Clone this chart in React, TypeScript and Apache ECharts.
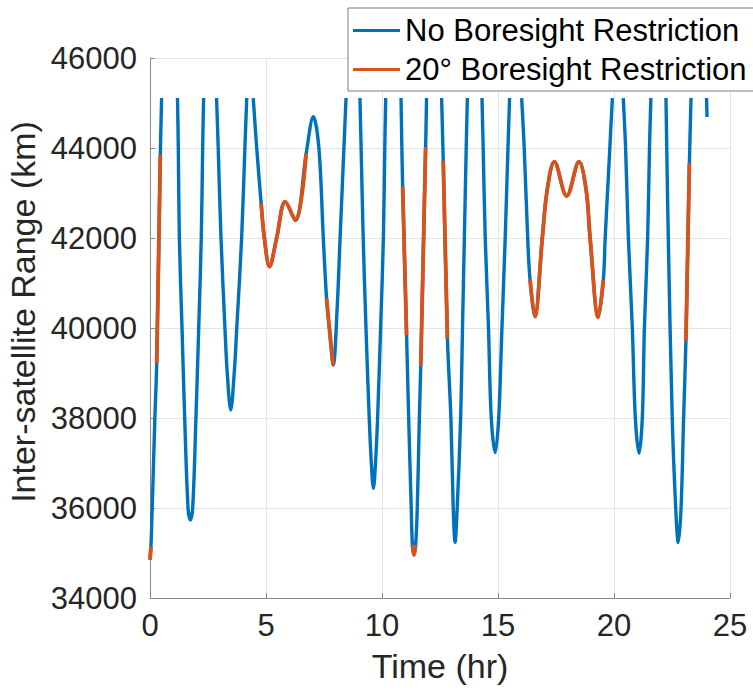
import React, { useEffect, useRef } from "react";
import * as echarts from "echarts";

// Time (hr) samples of the inter-satellite range curve; null = gap (range above plotted limit)
const timeHr: number[] = [
  0, 0.04, 0.095, 0.21, 0.29, 0.445, 0.5,
  0.84,
  1.185, 1.22, 1.265, 1.38, 1.495, 1.64, 1.737, 1.84, 1.98, 2.1, 2.21, 2.27, 2.31,
  2.6,
  2.87, 2.94, 3.06, 3.23, 3.33, 3.48, 3.63, 3.74, 3.95, 4.09, 4.17,
  4.31,
  4.45, 4.6, 4.79, 4.93, 5.15, 5.46, 5.83, 6.27, 6.73, 7.04, 7.28, 7.47, 7.61, 7.73, 7.9, 8.07, 8.19, 8.45,
  8.75,
  9.05, 9.1, 9.19, 9.31, 9.45, 9.54, 9.63, 9.72, 9.81, 9.94, 10.06, 10.12, 10.16,
  10.5,
  10.82, 10.89, 11.06, 11.15, 11.26, 11.31, 11.38, 11.45, 11.52, 11.61, 11.67, 11.88, 11.92,
  12.25,
  12.57, 12.64, 12.82, 12.97, 13.07, 13.15, 13.24, 13.39, 13.47, 13.55, 13.63, 13.68,
  14.0,
  14.31, 14.36, 14.45, 14.59, 14.71, 14.88, 15.03, 15.17, 15.31, 15.43, 15.5,
  15.75,
  16.02, 16.13, 16.28, 16.38, 16.59, 16.91, 17.12, 17.43, 17.96, 18.49, 18.8, 18.97, 19.32, 19.54, 19.62, 19.82, 19.93,
  20.15,
  20.4, 20.5, 20.62, 20.79, 20.92, 21.08, 21.22, 21.31, 21.45, 21.53, 21.59,
  21.9,
  22.24, 22.34, 22.51, 22.66, 22.77, 22.89, 23.0, 23.1, 23.25, 23.32,
  23.6,
  23.99, 24.01,
];

// Inter-satellite range (km)
const rangeKm: (number | null)[] = [
  34850, 35140, 36000, 38000, 39215, 43850, 45110,
  null,
  45110, 44000, 42000, 40000, 38000, 36000, 35733, 36000, 38000, 40000, 42000, 44000, 45110,
  null,
  45110, 44000, 42000, 40000, 39000, 38178, 39000, 40000, 42000, 44000, 45110,
  null,
  45110, 44000, 42771, 42000, 41363, 42000, 42807, 42390, 43870, 44696, 44000, 42000, 40660, 40000, 39178, 40474, 41955, 45110,
  null,
  45110, 44000, 42000, 40000, 38000, 37000, 36437, 37000, 38000, 40000, 42000, 44000, 45110,
  null,
  45110, 43140, 39844, 38000, 36000, 35180, 34955, 35180, 36000, 38000, 39156, 44016, 45110,
  null,
  45110, 43718, 39771, 38000, 36000, 35237, 36000, 38000, 40000, 42000, 44000, 45110,
  null,
  45110, 44000, 42000, 40000, 38000, 37230, 38000, 40000, 42000, 44000, 45110,
  null,
  45110, 44000, 42000, 41082, 40252, 42000, 43067, 43696, 42933, 43696, 43067, 42000, 40237, 41067, 42000, 44000, 45110,
  null,
  45110, 44000, 42000, 40000, 38000, 37215, 38000, 40000, 42000, 44000, 45110,
  null,
  45110, 42000, 38000, 36000, 35230, 36000, 38000, 39719, 43659, 45110,
  null,
  45110, 44690,
];

// Time windows (hr) where the 20° boresight restriction applies
const restrictedStart: number[] = [0, 0.29, 4.79, 7.61, 10.89, 11.31, 11.67, 12.64, 16.38, 23.1];
const restrictedEnd: number[] = [0.04, 0.445, 6.73, 7.9, 11.06, 11.45, 11.88, 12.82, 19.54, 23.25];

const seriesNames: string[] = ["No Boresight Restriction", "20\u00B0 Boresight Restriction"];
const xTicks = { min: 0, max: 25, interval: 5 };
const yTicks = { min: 34000, max: 46000, interval: 2000 };

const BLUE = "#0072BD";
const ORANGE = "#D95319";
const FONT = "'Liberation Sans', Arial, Helvetica, sans-serif";
const TEXT = "#262626";
const AXIS = "#8a8a8a";
const GRID = "#e4e4e4";
const LINE_W = 3.4;

export default function App() {
  const ref = useRef<HTMLDivElement>(null);
  useEffect(() => {
    if (!ref.current) return;
    const chart = echarts.init(ref.current, undefined, { renderer: "svg" });
    const inWindow = (t: number) =>
      restrictedStart.some((s, i) => t >= s - 1e-9 && t <= restrictedEnd[i] + 1e-9);
    const fullData = timeHr.map((t, i) => [t, rangeKm[i] === null ? "-" : rangeKm[i]]);
    const restrictedData = timeHr.map((t, i) => [
      t,
      rangeKm[i] === null || !inWindow(t) ? "-" : rangeKm[i],
    ]);
    chart.setOption({
      animation: false,
      backgroundColor: "#ffffff",
      grid: {
        left: 150,
        right: 23,
        top: 58,
        bottom: 94,
        containLabel: false,
        outerBoundsMode: "none",
      },
      xAxis: {
        type: "value",
        min: xTicks.min,
        max: xTicks.max,
        interval: xTicks.interval,
        name: "Time (hr)",
        nameLocation: "middle",
        nameGap: 51,
        nameTextStyle: { fontFamily: FONT, fontSize: 34, color: TEXT },
        axisLine: { show: true, onZero: false, lineStyle: { color: AXIS, width: 1 } },
        axisTick: { show: true, inside: true, length: 5, lineStyle: { color: AXIS } },
        axisLabel: { fontFamily: FONT, fontSize: 31, color: TEXT, margin: 12 },
        splitLine: { show: true, lineStyle: { color: GRID, width: 1 } },
      },
      yAxis: {
        type: "value",
        min: yTicks.min,
        max: yTicks.max,
        interval: yTicks.interval,
        name: "Inter-satellite Range (km)",
        nameLocation: "middle",
        nameGap: 104,
        nameTextStyle: { fontFamily: FONT, fontSize: 34, color: TEXT, padding: [0, 0, 0, 32] },
        axisLine: { show: true, lineStyle: { color: AXIS, width: 1 } },
        axisTick: { show: true, inside: true, length: 5, lineStyle: { color: AXIS } },
        axisLabel: {
          fontFamily: FONT,
          fontSize: 31,
          color: TEXT,
          margin: 13,
          formatter: (v: number) => String(v),
        },
        splitLine: { show: true, lineStyle: { color: GRID, width: 1 } },
      },
      legend: {
        orient: "vertical",
        left: 348,
        top: 8,
        icon: "rect",
        itemWidth: 47,
        itemHeight: 3,
        itemGap: 8,
        padding: [7, 14, 6, 5],
        backgroundColor: "#ffffff",
        borderColor: "#7a7a7a",
        borderWidth: 1,
        textStyle: { fontFamily: FONT, fontSize: 31, color: "#000000" },
        data: [
          { name: seriesNames[0], itemStyle: { color: BLUE } },
          { name: seriesNames[1], itemStyle: { color: ORANGE } },
        ],
      },
      series: [
        {
          name: seriesNames[0],
          type: "line",
          data: fullData,
          smooth: 0.35,
          symbol: "none",
          connectNulls: false,
          color: BLUE,
          lineStyle: { width: LINE_W, cap: "butt" },
          z: 3,
        },
        {
          name: seriesNames[1],
          type: "line",
          data: restrictedData,
          smooth: 0.35,
          symbol: "none",
          connectNulls: false,
          color: ORANGE,
          lineStyle: { width: LINE_W + 0.4, cap: "butt" },
          z: 4,
        },
      ],
    });
    return () => chart.dispose();
  }, []);
  return (
    <div
      ref={ref}
      style={{ position: "fixed", left: 0, top: 0, width: 753, height: 692, background: "#fff" }}
    />
  );
}
